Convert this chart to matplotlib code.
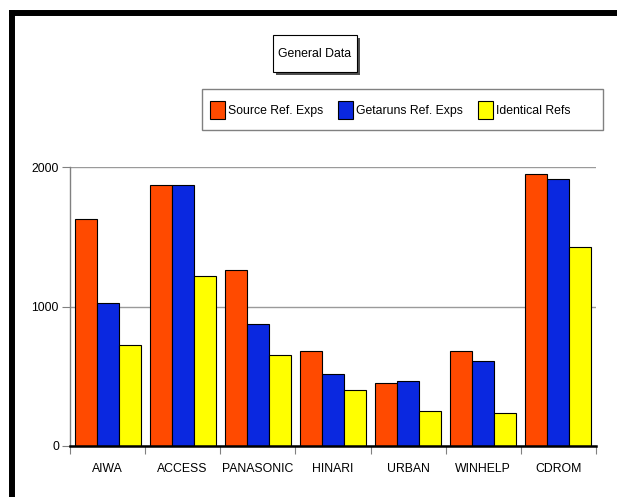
import numpy as np
import matplotlib.pyplot as plt
from matplotlib import font_manager
from matplotlib.patches import Rectangle
from matplotlib.lines import Line2D

# ---- data ----
categories = ["AIWA", "ACCESS", "PANASONIC", "HINARI", "URBAN", "WINHELP", "CDROM"]
source_refs = [1625, 1871, 1262, 679, 452, 679, 1952]
getaruns_refs = [1027, 1871, 877, 514, 464, 607, 1916]
identical_refs = [724, 1221, 650, 399, 251, 237, 1427]
series_names = ["Source Ref. Exps", "Getaruns Ref. Exps", "Identical Refs"]
y_ticks = [0, 1000, 2000]
title = "General Data"

COLORS = ["#ff4a00", "#0a28e0", "#ffff00"]

# narrow font if we have it, otherwise a slightly smaller regular one
names = {f.name for f in font_manager.fontManager.ttflist}
if "Liberation Sans Narrow" in names:
    FAMILY, FS = "Liberation Sans Narrow", 9.5
else:
    FAMILY, FS = "Liberation Sans", 8.8
plt.rcParams["font.family"] = [FAMILY, "DejaVu Sans"]

W, H = 617, 497
fig = plt.figure(figsize=(W / 100, H / 100), dpi=100)
fig.patch.set_facecolor("white")

def fx(px):
    return px / W

def fy(py):
    return 1 - py / H

# ---- outer frame (only left and top edges are visible) ----
fig.add_artist(Line2D([fx(12), fx(12)], [fy(13), -0.05], color="black", lw=4.3,
                      solid_capstyle="projecting"))
fig.add_artist(Line2D([fx(12), 1.05], [fy(13), fy(13)], color="black", lw=4.3,
                      solid_capstyle="projecting"))

# ---- axes ----
ax = fig.add_axes([fx(70), fy(446), fx(596) - fx(70), fy(167) - fy(446)])
x = np.arange(len(categories))
bw = 22 / 75.1
bars = []
for k, vals in enumerate([source_refs, getaruns_refs, identical_refs]):
    b = ax.bar(x + (k - 1) * bw, vals, bw, color=COLORS[k], edgecolor="black",
               linewidth=0.8, zorder=3, label=series_names[k])
    bars.append(b)

ax.set_xlim(-0.5, len(categories) - 0.5)
ax.set_ylim(0, 2000)
ax.set_yticks(y_ticks)
ax.set_yticklabels([str(v) for v in y_ticks], fontsize=FS)
ax.yaxis.grid(True, color="#9a9a9a", lw=1.0, zorder=0)
ax.tick_params(axis="y", length=6, color="#808080", pad=2)

# group separators as x ticks, labels as minor ticks
ax.set_xticks(np.arange(len(categories) + 1) - 0.5)
ax.set_xticklabels([])
ax.tick_params(axis="x", which="major", length=6, color="#808080")
ax.set_xticks(x, minor=True)
ax.set_xticklabels(categories, minor=True, fontsize=FS)
ax.tick_params(axis="x", which="minor", length=0, pad=12)

for s in ["top", "right"]:
    ax.spines[s].set_visible(False)
ax.spines["left"].set_color("#808080")
ax.spines["left"].set_linewidth(1.0)
ax.spines["bottom"].set_color("black")
ax.spines["bottom"].set_linewidth(1.8)
ax.spines["bottom"].set_zorder(4)

# ---- title box with drop shadow ----
fig.add_artist(Rectangle((fx(276), fy(75)), fx(360) - fx(276), fy(38) - fy(75),
                         facecolor="#505050", edgecolor="none", transform=fig.transFigure))
fig.add_artist(Rectangle((fx(273), fy(72)), fx(357) - fx(273), fy(35) - fy(72),
                         facecolor="white", edgecolor="black", lw=0.8,
                         transform=fig.transFigure))
fig.text(fx(315), fy(54), title, ha="center", va="center", fontsize=FS)

# ---- legend ----
fig.add_artist(Rectangle((fx(202), fy(130)), fx(603) - fx(202), fy(89) - fy(130),
                         facecolor="white", edgecolor="#808080", lw=1.0,
                         transform=fig.transFigure))
fig.legend(handles=bars, labels=series_names, ncol=3, loc="center left",
           bbox_to_anchor=(fx(210), fy(110)), frameon=False, fontsize=FS,
           borderpad=0, borderaxespad=0, handlelength=1.23, handleheight=1.85,
           handletextpad=0.25, columnspacing=1.2)

fig.savefig("out.png", dpi=100, facecolor="white")
